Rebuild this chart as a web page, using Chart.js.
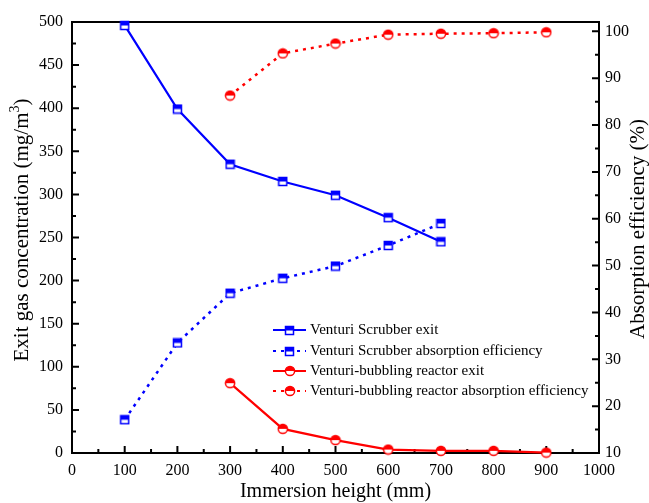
<!DOCTYPE html>
<html><head><meta charset="utf-8">
<script src="https://cdn.jsdelivr.net/npm/chart.js@4"></script>
<style>html,body{margin:0;padding:0;background:#fff;}</style>
</head><body>
<canvas id="c" width="649" height="503" style="width:649px;height:503px;display:block"></canvas>
<script>
// ---- data ----
const scrubberX = [100, 200, 300, 400, 500, 600, 700];
const scrubberExit = [496, 399, 335, 315, 299, 273, 245];
const scrubberEff = [17.1, 33.5, 44.1, 47.3, 49.9, 54.3, 59.0];
const bubblingX = [300, 400, 500, 600, 700, 800, 900];
const bubblingExit = [81, 28, 15, 4, 2.5, 2.5, 0.5];
const bubblingEff = [86.3, 95.3, 97.4, 99.3, 99.5, 99.6, 99.8];
const xTicks = [0, 100, 200, 300, 400, 500, 600, 700, 800, 900, 1000];
const leftTicks = [0, 50, 100, 150, 200, 250, 300, 350, 400, 450, 500];
const rightTicks = [10, 20, 30, 40, 50, 60, 70, 80, 90, 100];
const seriesNames = ['Venturi Scrubber exit', 'Venturi Scrubber absorption efficiency',
  'Venturi-bubbling reactor exit', 'Venturi-bubbling reactor absorption efficiency'];
const leftTitle = ['Exit gas concentration (mg/m', '3', ')'];
const rightTitle = 'Absorption efficiency (%)';
const bottomTitle = 'Immersion height (mm)';

const FONT = '"Liberation Serif", "Times New Roman", serif';
const BLUE = '#0000ff', RED = '#ff0000';

function squareMarker(color) {
  const c = document.createElement('canvas'); c.width = 11; c.height = 11;
  const g = c.getContext('2d');
  g.fillStyle = '#fff'; g.fillRect(1.5, 1.5, 8, 8);
  g.fillStyle = color; g.fillRect(1.5, 1.5, 8, 4);
  g.strokeStyle = color; g.lineWidth = 1.5; g.strokeRect(1.5, 1.5, 8, 8);
  return c;
}
function circleMarker(color) {
  const c = document.createElement('canvas'); c.width = 12; c.height = 12;
  const g = c.getContext('2d');
  g.beginPath(); g.arc(6, 6, 4.6, 0, Math.PI * 2); g.fillStyle = '#fff'; g.fill();
  g.beginPath(); g.arc(6, 6, 4.6, Math.PI, 0); g.closePath(); g.fillStyle = color; g.fill();
  g.beginPath(); g.arc(6, 6, 4.6, 0, Math.PI * 2); g.strokeStyle = color; g.lineWidth = 1.5; g.stroke();
  return c;
}
const sqB = squareMarker(BLUE), ciR = circleMarker(RED);

function pts(xs, ys) { return xs.map((x, i) => ({x: x, y: ys[i]})); }

const DOT = [3, 5];
const datasets = [
  {label: seriesNames[0], data: pts(scrubberX, scrubberExit), yAxisID: 'y', borderColor: BLUE, borderWidth: 2.2, pointStyle: sqB, order: 4},
  {label: seriesNames[1], data: pts(scrubberX, scrubberEff), yAxisID: 'y1', borderColor: BLUE, borderWidth: 2.5, borderDash: DOT, pointStyle: sqB, order: 3},
  {label: seriesNames[2], data: pts(bubblingX, bubblingExit), yAxisID: 'y', borderColor: RED, borderWidth: 2.2, pointStyle: ciR, order: 2},
  {label: seriesNames[3], data: pts(bubblingX, bubblingEff), yAxisID: 'y1', borderColor: RED, borderWidth: 2.5, borderDash: DOT, pointStyle: ciR, order: 1}
].map(d => Object.assign({backgroundColor: d.borderColor, pointRadius: 5, clip: false, tension: 0, fill: false}, d));

const frame = {
  id: 'frame',
  beforeDatasetsDraw(chart) {
    const {ctx, chartArea: a, scales} = chart;
    ctx.save();
    ctx.strokeStyle = '#000'; ctx.lineWidth = 2; ctx.lineCap = 'butt';
    ctx.strokeRect(a.left, a.top, a.right - a.left, a.bottom - a.top);
    ctx.beginPath();
    for (let v = 0; v <= 1000; v += 50) {
      const x = scales.x.getPixelForValue(v), L = v % 100 === 0 ? 7 : 4;
      ctx.moveTo(x, a.bottom); ctx.lineTo(x, a.bottom - L);
    }
    for (let v = 0; v <= 500; v += 25) {
      const y = scales.y.getPixelForValue(v), L = v % 50 === 0 ? 7 : 4;
      ctx.moveTo(a.left, y); ctx.lineTo(a.left + L, y);
    }
    for (let v = 10; v <= 100; v += 5) {
      const y = scales.y1.getPixelForValue(v), L = v % 10 === 0 ? 7 : 4;
      ctx.moveTo(a.right, y); ctx.lineTo(a.right - L, y);
    }
    ctx.stroke();
    ctx.restore();
  },
  afterDraw(chart) {
    const {ctx} = chart;
    ctx.save();
    ctx.fillStyle = '#000';
    ctx.textBaseline = 'middle';
    const big = '21px ' + FONT, small = '14px ' + FONT;
    ctx.font = big;
    const w0 = ctx.measureText(leftTitle[0]).width, w2 = ctx.measureText(leftTitle[2]).width;
    ctx.font = small;
    const w1 = ctx.measureText(leftTitle[1]).width;
    const total = w0 + w1 + w2;
    ctx.translate(22, 230); ctx.rotate(-Math.PI / 2);
    let x = -total / 2;
    ctx.textAlign = 'left';
    ctx.font = big; ctx.fillText(leftTitle[0], x, 0); x += w0;
    ctx.font = small; ctx.fillText(leftTitle[1], x, -7); x += w1;
    ctx.font = big; ctx.fillText(leftTitle[2], x, 0);
    ctx.restore();
    ctx.save();
    ctx.fillStyle = '#000'; ctx.textBaseline = 'middle'; ctx.textAlign = 'center';
    ctx.font = big;
    ctx.translate(638, 229); ctx.rotate(-Math.PI / 2);
    ctx.fillText(rightTitle, 0, 0);
    ctx.restore();
  }
};

const legend = {
  id: 'customLegend',
  afterDraw(chart) {
    const {ctx} = chart;
    const x0 = 273, x1 = 306, tx = 310, ys = [330, 351, 371, 391];
    ctx.save();
    chart.data.datasets.forEach((d, i) => {
      const y = ys[i];
      ctx.strokeStyle = d.borderColor; ctx.lineWidth = 2.2;
      ctx.setLineDash(d.borderDash || []);
      ctx.beginPath(); ctx.moveTo(x0, y); ctx.lineTo(x1, y); ctx.stroke();
      ctx.setLineDash([]);
      const m = d.pointStyle;
      ctx.drawImage(m, Math.round((x0 + x1) / 2 - m.width / 2), Math.round(y - m.height / 2));
      ctx.fillStyle = '#000'; ctx.font = '15px ' + FONT; ctx.textBaseline = 'middle'; ctx.textAlign = 'left';
      ctx.fillText(d.label, tx, y);
    });
    ctx.restore();
  }
};

const tickFont = {family: FONT, size: 16};
const plain = v => String(v);
new Chart(document.getElementById('c'), {
  type: 'line',
  data: {datasets: datasets},
  options: {
    responsive: false, animation: false, devicePixelRatio: 1,
    layout: {padding: {top: 22, left: 0, right: 0, bottom: 0}},
    plugins: {legend: {display: false}, tooltip: {enabled: false}},
    scales: {
      x: {
        type: 'linear', min: 0, max: 1000,
        afterBuildTicks: s => { s.ticks = xTicks.map(v => ({value: v})); },
        afterFit: s => { s.height = 50; },
        grid: {display: false, drawTicks: false}, border: {display: false},
        ticks: {font: tickFont, color: '#000', padding: 8, maxRotation: 0, autoSkip: false, callback: plain},
        title: {display: true, text: bottomTitle, font: {family: FONT, size: 20}, color: '#000', padding: {top: 0, bottom: -1}}
      },
      y: {
        type: 'linear', position: 'left', min: 0, max: 500,
        afterBuildTicks: s => { s.ticks = leftTicks.map(v => ({value: v})); },
        afterFit: s => { s.width = 72; },
        grid: {display: false, drawTicks: false}, border: {display: false},
        ticks: {font: tickFont, color: '#000', padding: 9, autoSkip: false, callback: plain},
        title: {display: false}
      },
      y1: {
        type: 'linear', position: 'right', min: 10, max: 102,
        afterBuildTicks: s => { s.ticks = rightTicks.map(v => ({value: v})); },
        afterFit: s => { s.width = 50; },
        grid: {display: false, drawTicks: false}, border: {display: false},
        ticks: {font: tickFont, color: '#000', padding: 6, autoSkip: false, callback: plain},
        title: {display: false}
      }
    }
  },
  plugins: [frame, legend]
});
</script>
</body></html>
